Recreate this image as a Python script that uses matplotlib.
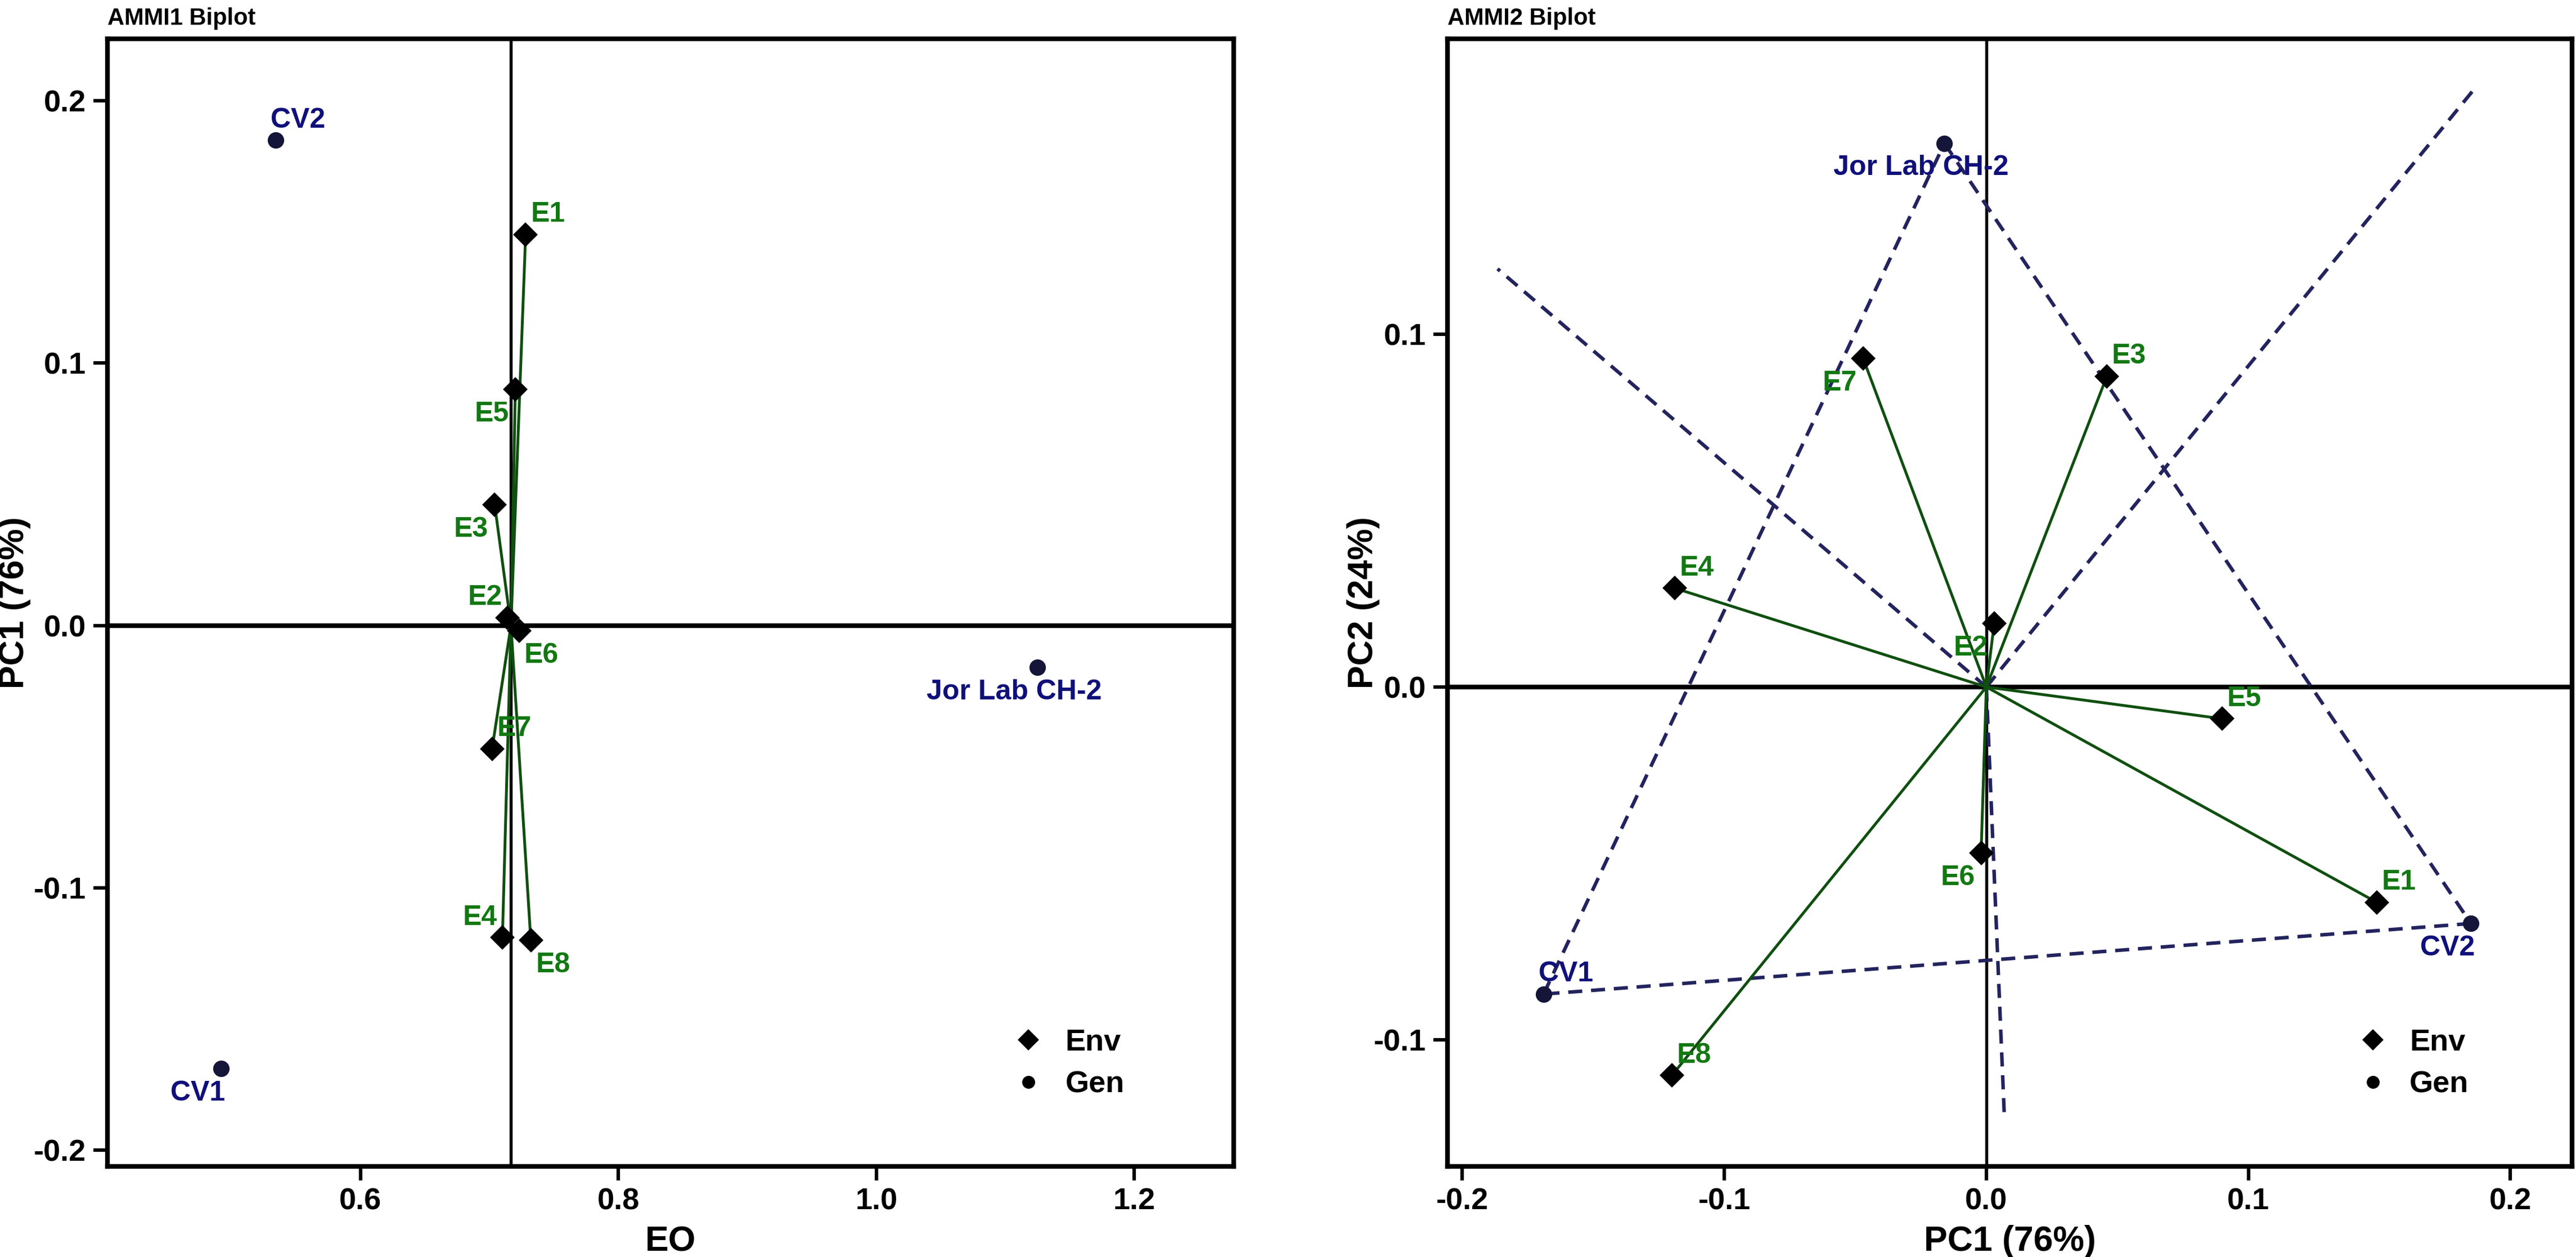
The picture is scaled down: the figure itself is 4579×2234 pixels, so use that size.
import numpy as np
import matplotlib
matplotlib.use('Agg')
import matplotlib.pyplot as plt
from matplotlib import font_manager
from matplotlib.lines import Line2D

# narrow bold sans looks closest to the squeezed R output
names = {f.name for f in font_manager.fontManager.ttflist}
fam = 'Liberation Sans Narrow' if 'Liberation Sans Narrow' in names else 'Liberation Sans'
plt.rcParams['font.family'] = [fam, 'DejaVu Sans']
plt.rcParams['font.weight'] = 'bold'

# data
env = ['E1', 'E2', 'E3', 'E4', 'E5', 'E6', 'E7', 'E8']
env_eo = [0.728, 0.714, 0.704, 0.710, 0.720, 0.723, 0.702, 0.732]
env_pc1 = [0.149, 0.003, 0.046, -0.119, 0.090, -0.002, -0.047, -0.120]
env_pc2 = [-0.061, 0.018, 0.088, 0.028, -0.009, -0.047, 0.093, -0.110]

gen = ['CV1', 'CV2', 'Jor Lab CH-2']
gen_eo = [0.492, 0.534, 1.125]
gen_pc1 = [-0.169, 0.185, -0.016]
gen_pc2 = [-0.087, -0.067, 0.154]

# hull edges (gen index pairs) and how far each perpendicular ray runs
hull_edges = [(0, 2), (2, 1), (1, 0)]
ray_len = [0.221, 0.251, 0.122]

x1_ticks = [0.6, 0.8, 1.0, 1.2]
y1_ticks = [-0.2, -0.1, 0.0, 0.1, 0.2]
x2_ticks = [-0.2, -0.1, 0.0, 0.1, 0.2]
y2_ticks = [-0.1, 0.0, 0.1]

# label placement (quadrant around the point)
left_env_pos = ['ur', 'ul', 'll', 'ul', 'll', 'lr', 'ur', 'lr']
left_gen_pos = ['ll', 'ur', 'll']
right_env_pos = ['ur', 'll', 'ur', 'ur', 'ur', 'll', 'll', 'ur']
right_gen_pos = ['ur', 'll', 'll']
offs = {'ur': (9.5, 8.5), 'ul': (-9.5, 8.5), 'll': (-10, -10.5), 'lr': (9.5, -10.5)}

env_col = '#127812'
gen_col = '#10107a'
line_col = '#0f4f0f'
dash_col = '#23235e'

fig = plt.figure(figsize=(4579 / 300, 2234 / 300), dpi=300)
ax1 = fig.add_axes([0.0417, 0.0721, 0.4372, 0.897])
ax2 = fig.add_axes([0.5619, 0.0721, 0.4366, 0.897])


def style_axes(ax, title):
    for s in ax.spines.values():
        s.set_linewidth(2.0)
    ax.tick_params(axis='both', which='both', length=6, width=1.5, labelsize=13, pad=3,
                   top=False, right=False)
    ax.set_title(title, loc='left', fontsize=10, fontweight='bold', pad=6)


def add_legend(ax, xc):
    h = [Line2D([], [], ls='none', marker='D', ms=5.5, color='black'),
         Line2D([], [], ls='none', marker='o', ms=4.5, color='black')]
    ax.legend(h, ['Env', 'Gen'], loc='center', bbox_to_anchor=(xc, 0.091), frameon=False,
              fontsize=13, handlelength=0.8, handletextpad=0.8, labelspacing=0.45)


def label(ax, txt, x, y, pos, col):
    ax.annotate(txt, (x, y), xytext=offs[pos], textcoords='offset points',
                ha='center', va='center', fontsize=12, fontweight='bold', color=col)


# ---- AMMI1 ----
mean_eo = np.mean(env_eo)
ax1.axhline(0, color='black', lw=2.0, zorder=1)
ax1.axvline(mean_eo, color='black', lw=1.3, zorder=1)
for i in range(len(env)):
    ax1.plot([mean_eo, env_eo[i]], [0, env_pc1[i]], color=line_col, lw=1.2, zorder=2)
ax1.plot(env_eo, env_pc1, ls='none', marker='D', ms=6.5, color='black', zorder=3)
ax1.plot(gen_eo, gen_pc1, ls='none', marker='o', ms=6, color='#15153a', zorder=3)
for i, e in enumerate(env):
    label(ax1, e, env_eo[i], env_pc1[i], left_env_pos[i], env_col)
for i, g in enumerate(gen):
    label(ax1, g, gen_eo[i], gen_pc1[i], left_gen_pos[i], gen_col)
ax1.set_xlim(0.4037, 1.277)
ax1.set_ylim(-0.2062, 0.2236)
ax1.set_xticks(x1_ticks)
ax1.set_xticklabels(['%.1f' % v for v in x1_ticks])
ax1.set_yticks(y1_ticks)
ax1.set_yticklabels(['%.1f' % v for v in y1_ticks])
ax1.set_xlabel('EO', fontsize=15, fontweight='bold', labelpad=4)
ax1.set_ylabel('PC1 (76%)', fontsize=15, fontweight='bold')
ax1.yaxis.set_label_coords(-0.068, 0.5)
style_axes(ax1, 'AMMI1 Biplot')
add_legend(ax1, 0.855)

# ---- AMMI2 ----
ax2.axhline(0, color='black', lw=2.0, zorder=1)
ax2.axvline(0, color='black', lw=1.3, zorder=1)
gx = np.array(gen_pc1)
gy = np.array(gen_pc2)
dash = (0, (4, 2.5))
for (a, b), L in zip(hull_edges, ray_len):
    ax2.plot([gx[a], gx[b]], [gy[a], gy[b]], color=dash_col, lw=1.5, ls=dash, zorder=2)
    # foot of the perpendicular from the origin onto the edge
    p = np.array([gx[a], gy[a]])
    d = np.array([gx[b] - gx[a], gy[b] - gy[a]])
    t = -p.dot(d) / d.dot(d)
    f = p + t * d
    u = f / np.linalg.norm(f)
    ax2.plot([0, u[0] * L], [0, u[1] * L], color=dash_col, lw=1.5, ls=dash, zorder=2)
for i in range(len(env)):
    ax2.plot([0, env_pc1[i]], [0, env_pc2[i]], color=line_col, lw=1.2, zorder=2)
ax2.plot(env_pc1, env_pc2, ls='none', marker='D', ms=6.5, color='black', zorder=3)
ax2.plot(gen_pc1, gen_pc2, ls='none', marker='o', ms=6, color='#15153a', zorder=3)
for i, e in enumerate(env):
    label(ax2, e, env_pc1[i], env_pc2[i], right_env_pos[i], env_col)
for i, g in enumerate(gen):
    label(ax2, g, gen_pc1[i], gen_pc2[i], right_gen_pos[i], gen_col)
ax2.set_xlim(-0.2057, 0.2236)
ax2.set_ylim(-0.1358, 0.1836)
ax2.set_xticks(x2_ticks)
ax2.set_xticklabels(['%.1f' % v for v in x2_ticks])
ax2.set_yticks(y2_ticks)
ax2.set_yticklabels(['%.1f' % v for v in y2_ticks])
ax2.set_xlabel('PC1 (76%)', fontsize=15, fontweight='bold', labelpad=4)
ax2.set_ylabel('PC2 (24%)', fontsize=15, fontweight='bold')
ax2.yaxis.set_label_coords(-0.06, 0.5)
style_axes(ax2, 'AMMI2 Biplot')
add_legend(ax2, 0.86)

fig.savefig('out.png', dpi=300)
